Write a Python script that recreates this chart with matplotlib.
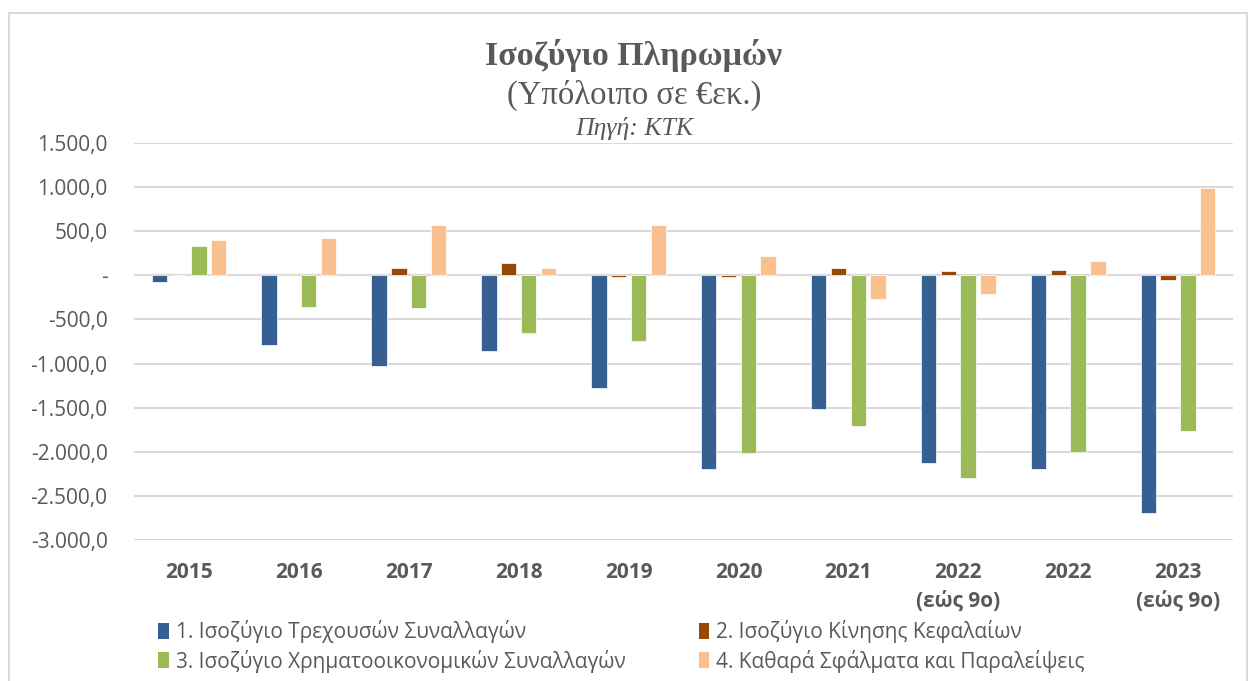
import matplotlib
matplotlib.use("Agg")
import matplotlib.pyplot as plt
import numpy as np
from matplotlib.ticker import FuncFormatter, MultipleLocator
from matplotlib.patches import Rectangle, Patch

categories = ["2015", "2016", "2017", "2018", "2019", "2020", "2021",
              "2022\n(εώς 9ο)", "2022", "2023\n(εώς 9ο)"]
current_account = [-70, -790, -1030, -860, -1280, -2200, -1515, -2130, -2200, -2690]
capital_account = [5, 15, 85, 135, -20, -20, 85, 50, 60, -50]
financial_account = [330, -360, -370, -650, -740, -2010, -1710, -2300, -2000, -1760]
errors_omissions = [400, 420, 575, 80, 570, 220, -270, -215, 160, 985]
series_names = ["1. Ισοζύγιο Τρεχουσών Συναλλαγών",
                "2. Ισοζύγιο Κίνησης Κεφαλαίων",
                "3. Ισοζύγιο Χρηματοοικονομικών Συναλλαγών",
                "4. Καθαρά Σφάλματα και Παραλείψεις"]
colors = ["#366092", "#984807", "#9BBB59", "#FAC090"]

sans = ["Open Sans", "DejaVu Sans"]
serif = ["Liberation Serif", "DejaVu Serif"]
grey = "#595959"

fig = plt.figure(figsize=(12.5, 6.81), dpi=100)
ax = fig.add_axes([134/1250, 1-540/681, (1233-134)/1250, (540-143)/681])

# chart border
fig.patches.append(Rectangle((9/1250, -0.05), (1247-9)/1250, 1.05-13/681,
                             transform=fig.transFigure, fill=False,
                             edgecolor="#D9D9D9", linewidth=1.5))

x = np.arange(len(categories))
data = [current_account, capital_account, financial_account, errors_omissions]
w = 0.14
pitch = 0.18
offsets = (np.arange(4) - 1.5) * pitch
for i, (vals, c) in enumerate(zip(data, colors)):
    ax.bar(x + offsets[i], vals, width=w, color=c, edgecolor="white",
           linewidth=0.5, zorder=3)

ax.set_xlim(-0.5, len(categories) - 0.5)
ax.set_ylim(-3000, 1500)
ax.yaxis.set_major_locator(MultipleLocator(500))

def fmt(v, pos):
    if abs(v) < 1e-9:
        return "-"
    s = f"{v:,.1f}"
    return s.replace(",", "X").replace(".", ",").replace("X", ".")

ax.yaxis.set_major_formatter(FuncFormatter(fmt))
ax.grid(axis="y", color="#D9D9D9", linewidth=1.5, zorder=0)
ax.axhline(0, color="#D9D9D9", linewidth=1.5, zorder=1)
for s in ax.spines.values():
    s.set_visible(False)
ax.tick_params(axis="both", length=0, colors=grey, labelsize=15)
ax.tick_params(axis="y", pad=19)
ax.tick_params(axis="x", pad=16)
ax.set_xticks(x)
ax.set_xticklabels(categories, fontweight="bold", linespacing=1.45)
for lab in ax.get_xticklabels() + ax.get_yticklabels():
    lab.set_family(sans)
    lab.set_color(grey)

fig.text(0.507, 1-55/681, "Ισοζύγιο Πληρωμών", ha="center", va="center",
         family=serif, fontweight="bold", fontsize=24.5, color=grey)
fig.text(0.507, 1-95/681, "(Υπόλοιπο σε €εκ.)", ha="center", va="center",
         family=serif, fontsize=23.5, color=grey)
fig.text(0.507, 1-129/681, "Πηγή: ΚΤΚ", ha="center", va="center",
         family=serif, style="italic", fontsize=18.5, color=grey)

handles = [Patch(facecolor=c, edgecolor="none") for c in colors]
order = [0, 2, 1, 3]
leg = fig.legend([handles[i] for i in order], [series_names[i] for i in order],
                 ncol=2, loc="upper left", bbox_to_anchor=(150/1250, 1-612/681),
                 frameon=False, prop={"family": sans, "size": 15},
                 handlelength=0.5, handleheight=0.8, handletextpad=0.35,
                 columnspacing=3.5, labelspacing=0.3, borderaxespad=0)
for t in leg.get_texts():
    t.set_color(grey)

fig.savefig("out.png", dpi=100)
